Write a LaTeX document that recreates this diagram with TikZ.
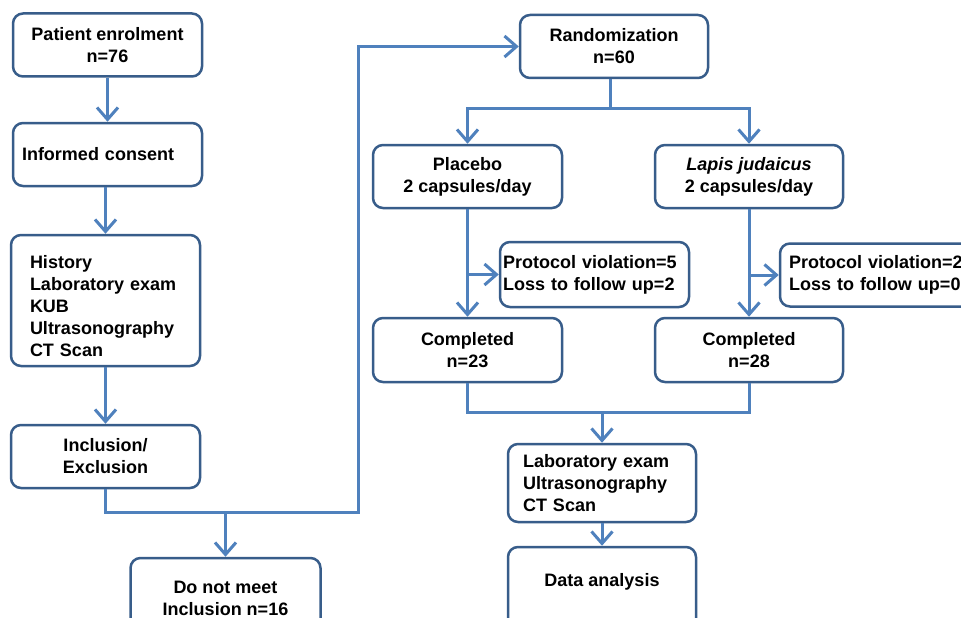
\documentclass[tikz,border=0pt]{standalone}
\usepackage{fontspec}
\setmainfont{Liberation Sans}
\usetikzlibrary{positioning,arrows.meta}

\definecolor{boxblue}{HTML}{385D8A}
\definecolor{lineblue}{HTML}{4F81BD}

\begin{document}
\begin{tikzpicture}[
		x=1pt, y=-1pt,
		main/.style = {draw=boxblue, line width=2.5pt, rounded corners=10pt, fill=white,
			minimum width=189pt, minimum height=63pt, align=center,
			font=\fontsize{18}{22}\selectfont\bfseries},
		leftbox/.style = {main, align=left},
		line/.style = {draw=lineblue, line width=3pt},
		arr/.style = {line, -{Straight Barb[length=12pt, width=21pt]}}
	]
	\clip (0,0) rectangle (961,618);
	\fill[white] (0,0) rectangle (961,618);

	% Screening column.
	\node[main] (pe) at (107.5,45) {Patient enrolment\\n=76};
	\node[leftbox, inner xsep=9pt, text width=171pt] (ic) at (107.5,154.5) {Informed consent};
	\node[leftbox, inner xsep=19pt, text width=151pt, minimum height=131pt] (hist) at (105.5,300.5)
		{\rule{0pt}{25pt}History\\Laboratory exam\\KUB\\Ultrasonography\\CT Scan};
	\node[main] (incl) at (105.5,456.5) {Inclusion/\\Exclusion};
	\node[main, minimum width=190pt, minimum height=80pt] (dnm) at (225.5,598) {Do not meet\\Inclusion n=16};

	% Randomization.
	\node[main, minimum width=188pt] (rand) at (614,46.5) {Randomization\\n=60};
	\node[main] (plac) at (467.5,176.5) {Placebo\\2 capsules/day};
	\node[main, minimum width=188pt] (lapis) at (749,176.5) {\textit{Lapis judaicus}\\2 capsules/day};

	% Drop outs.
	\node[leftbox, inner xsep=3pt, text width=183pt, minimum height=65pt] (prot1) at (594.5,274.5)
		{Protocol violation=5\\Loss to follow up=2};
	\node[leftbox, inner xsep=9pt, text width=177pt, minimum height=63pt] (prot2) at (877.5,275)
		{Protocol violation=2\\Loss to follow up=0};

	% Completed.
	\node[main, minimum height=64pt] (comp1) at (467.5,350) {Completed\\n=23};
	\node[main, minimum width=188pt, minimum height=64pt] (comp2) at (749,350) {Completed\\n=28};

	% Final steps.
	\node[leftbox, inner xsep=15pt, text width=158pt, minimum width=188pt, minimum height=78pt] (lab) at (602,483)
		{Laboratory exam\\Ultrasonography\\CT Scan};
	\node[main, minimum width=188pt, minimum height=0pt, inner ysep=0pt,
		text height=39pt, text depth=60pt, anchor=base] (data) at (602,586) {Data analysis};

	\coordinate (bend) at (358,512);
	\coordinate (rsplit) at (610,108);
	\coordinate (join) at (600,412);

	\draw[arr] (pe) -- (ic);
	\draw[arr] (hist.north |- ic.south) -- (hist);
	\draw[arr] (hist) -- (incl);
	\draw[arr] (incl.south) |- (bend) |- (rand.west);
	\draw[arr] (dnm.north |- bend) -- (dnm);

	\draw[line] (rand.south -| rsplit) -- (rsplit);
	\draw[arr] (rsplit) -| (plac);
	\draw[arr] (rsplit) -| (lapis);

	\draw[arr] (plac) -- (comp1);
	\draw[arr] (plac.south |- prot1) -- (prot1);
	\draw[arr] (lapis) -- (comp2);
	\draw[arr] (lapis.south |- prot2) -- (prot2);

	\draw[line] (comp1) |- (join) -| (comp2);
	\draw[arr] (lab.north |- join) -- (lab);
	\draw[arr] (lab) -- (data);
\end{tikzpicture}
\end{document}
